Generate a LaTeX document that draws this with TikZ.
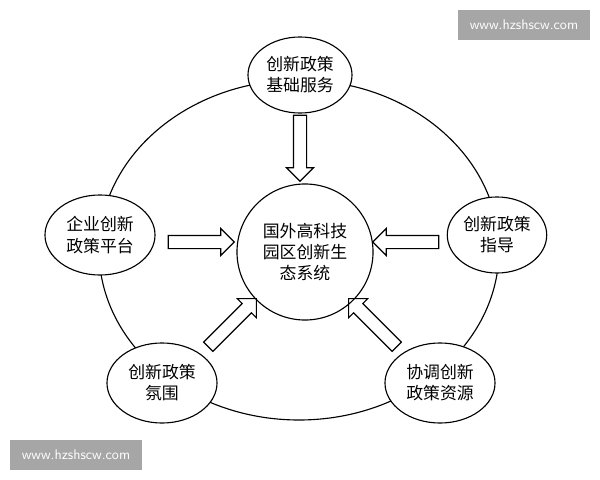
\documentclass[tikz,border=0pt]{standalone}
\usepackage{fontspec}
\newfontfamily\cjk{Noto Sans CJK SC}
\usetikzlibrary{shapes.arrows,shapes.geometric}
\tikzset{%
	item/.style={draw,thick,ellipse,fill=white,align=center,font=\cjk\fontsize{12}{15}\selectfont,inner sep=1pt},
	push/.style={draw,thick,single arrow,minimum height=1.65cm,minimum width=0.65cm,
		inner sep=0.15cm,single arrow head extend=0.175cm},
	stamp/.style={fill=gray!70,text=white,font=\sffamily\fontsize{10}{12}\selectfont,minimum width=3.3cm,minimum height=0.75cm}
}
\begin{document}
\begin{tikzpicture}[x=0.025cm,y=-0.025cm]
		\useasboundingbox (0,0) rectangle (600,480);
		\draw [thick] (299,250) ellipse [x radius=200,y radius=170];
		\node [item,circle,minimum size=3.4cm] (core) at (305,252) {国外高科技\\园区创新生\\态系统};

		\node [item,minimum width=2.6cm,minimum height=1.9cm] (top) at (300,75) {创新政策\\基础服务};
		\node [item,minimum width=2.75cm,minimum height=2cm] (left) at (100,235) {企业创新\\政策平台};
		\node [item,minimum width=2.4cm,minimum height=1.9cm] (right) at (497,235) {创新政策\\指导};
		\node [item,minimum width=2.75cm,minimum height=2cm] (bl) at (162,383) {创新政策\\氛围};
		\node [item,minimum width=2.75cm,minimum height=2cm] (br) at (440,383) {协调创新\\政策资源};

		\node [push,rotate=-90] (a1) at (300,145) {};
		\node [push] (a2) at (198,242) {};
		\node [push,rotate=180] (a3) at (409,242) {};
		\node [push,rotate=45,minimum height=1.7cm] (a4) at (230,325) {};
		\node [push,rotate=135,minimum height=1.7cm] (a5) at (375,325) {};

		\node [stamp] (w1) at (524,25) {www.hzshscw.com};
		\node [stamp] (w2) at (76,455) {www.hzshscw.com};
	\end{tikzpicture}
\end{document}
